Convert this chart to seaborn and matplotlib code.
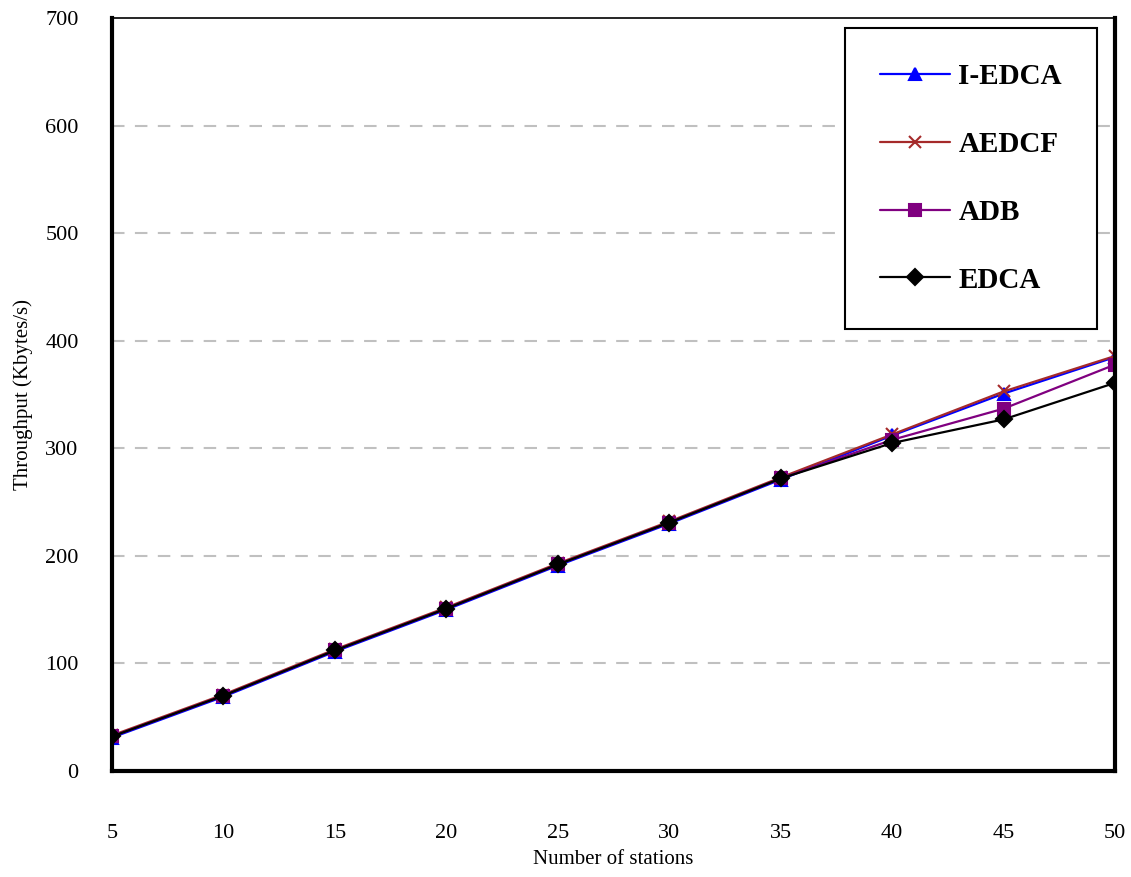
import numpy as np
import pandas as pd
import matplotlib
matplotlib.use('Agg')
import matplotlib.pyplot as plt
import seaborn as sns

###################################################################################
# Data

stations = [5, 10, 15, 20, 25, 30, 35, 40, 45, 50]
i_edca = [31, 69, 111, 150, 191, 230, 271, 312, 351, 385]
aedcf = [33, 71, 113, 152, 193, 232, 273, 313, 353, 386]
adb = [32, 70, 112, 151, 192, 231, 272, 308, 337, 378]
edca = [32, 70, 112, 151, 192, 231, 272, 305, 327, 361]

series_names = ['I-EDCA', 'AEDCF', 'ADB', 'EDCA']
y_ticks = [0, 100, 200, 300, 400, 500, 600, 700]

df = pd.DataFrame({
    'stations': stations * 4,
    'throughput': i_edca + aedcf + adb + edca,
    'scheme': np.repeat(series_names, len(stations)),
})

###################################################################################
# Plot

sns.set_style('white')
plt.rcParams['font.family'] = ['Liberation Serif', 'DejaVu Serif']
plt.rcParams['text.color'] = 'black'
plt.rcParams['axes.labelcolor'] = 'black'
plt.rcParams['xtick.color'] = 'black'
plt.rcParams['ytick.color'] = 'black'

fig = plt.figure(figsize=(11.31, 8.77), dpi=100)
ax = fig.add_axes([0.099, 0.121, 0.887, 0.858])

colors = {'I-EDCA': '#0000ff', 'AEDCF': '#a52a2a', 'ADB': '#800080', 'EDCA': '#000000'}
markers = {'I-EDCA': '^', 'AEDCF': 'x', 'ADB': 's', 'EDCA': 'D'}
msizes = {'I-EDCA': 9, 'AEDCF': 9, 'ADB': 8, 'EDCA': 8}

# one call per series so filled and line markers can be mixed
for name in series_names:
    sub = df[df['scheme'] == name]
    sns.lineplot(data=sub, x='stations', y='throughput', color=colors[name],
                 marker=markers[name], markersize=msizes[name],
                 markeredgewidth=1.5, markeredgecolor=colors[name],
                 linewidth=1.6, label=name, ax=ax)

ax.set_xlim(5, 50)
ax.set_ylim(0, 700)
ax.set_xticks(stations)
ax.set_yticks(y_ticks)
for v in y_ticks[1:-1]:
    ax.axhline(v, color='#c0c0c0', linestyle=(0, (6, 5)), linewidth=1.5, zorder=0)

ax.tick_params(axis='x', direction='in', length=7, width=1.2, pad=38, labelsize=16)
ax.tick_params(axis='y', length=0, pad=24, labelsize=16)

for side in ['left', 'bottom', 'right']:
    ax.spines[side].set_linewidth(3)
    ax.spines[side].set_color('black')
ax.spines['top'].set_linewidth(1.2)
ax.spines['top'].set_color('black')

ax.set_xlabel('Number of stations', fontsize=15, labelpad=5)
ax.set_ylabel('Throughput (Kbytes/s)', fontsize=15, labelpad=9)

leg = ax.legend(title=None, loc='upper right', bbox_to_anchor=(0.982, 0.987),
                prop={'size': 21, 'weight': 'bold'}, labelspacing=1.4,
                handlelength=2.4, borderpad=1.2, handletextpad=0.3,
                fancybox=False, framealpha=1, borderaxespad=0)
leg.get_frame().set_edgecolor('black')
leg.get_frame().set_linewidth(1.5)

fig.savefig('out.png', dpi=100)
